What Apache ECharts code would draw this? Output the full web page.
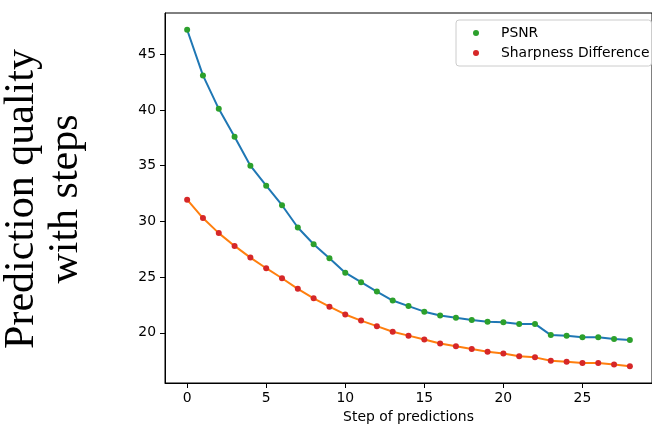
<!DOCTYPE html>
<html>
<head>
<meta charset="utf-8">
<script src="https://cdn.jsdelivr.net/npm/echarts@6/dist/echarts.min.js"></script>
<style>
  html, body { margin: 0; padding: 0; background: #ffffff; }
  #chart { width: 652px; height: 431px; }
</style>
</head>
<body>
<div id="chart"></div>
<script>
// step index along x
const steps = [0, 1, 2, 3, 4, 5, 6, 7, 8, 9, 10, 11, 12, 13, 14, 15, 16, 17, 18, 19, 20, 21, 22, 23, 24, 25, 26, 27, 28];
// values
const psnr = [47.2, 43.1, 40.1, 37.6, 35.0, 33.2, 31.45, 29.45, 27.95, 26.7, 25.4, 24.55, 23.7, 22.9, 22.4,
  21.9, 21.55, 21.35, 21.15, 21.0, 20.95, 20.8, 20.8, 19.8, 19.75, 19.6, 19.6, 19.45, 19.35];
const sharpness = [31.95, 30.3, 28.95, 27.8, 26.75, 25.8, 24.9, 23.95, 23.1, 22.35, 21.65, 21.1, 20.6, 20.1, 19.75,
  19.4, 19.05, 18.8, 18.55, 18.3, 18.15, 17.9, 17.8, 17.5, 17.4, 17.3, 17.3, 17.15, 17.0];
// tick labels
const xTicks = [0, 5, 10, 15, 20, 25];
const yTicks = [20, 25, 30, 35, 40, 45];

const pair = (ys) => steps.map((x, i) => [x, ys[i]]);
const font = 'DejaVu Sans';

const chart = echarts.init(document.getElementById('chart'));

const option = {
  animation: false,
  backgroundColor: '#ffffff',
  grid: {
    left: 165, top: 13, width: 496, height: 370,
    show: true, borderColor: '#000000', borderWidth: 1
  },
  xAxis: {
    type: 'value',
    min: -1.4, max: 29.4,
    name: 'Step of predictions',
    nameLocation: 'middle',
    nameGap: 27,
    nameTextStyle: { color: '#000000', fontSize: 13.9, fontFamily: font },
    axisLine: { show: true, onZero: false, lineStyle: { color: '#000000', width: 1 } },
    axisTick: { show: true, length: 5, customValues: xTicks, lineStyle: { color: '#000000' } },
    axisLabel: { customValues: xTicks, margin: 8, color: '#000000', fontSize: 13.9, fontFamily: font },
    splitLine: { show: false }
  },
  yAxis: {
    type: 'value',
    min: 15.5, max: 48.7,
    axisLine: { show: true, onZero: false, lineStyle: { color: '#000000', width: 1 } },
    axisTick: { show: true, length: 5, customValues: yTicks, lineStyle: { color: '#000000' } },
    axisLabel: { customValues: yTicks, margin: 9, color: '#000000', fontSize: 13.9, fontFamily: font },
    splitLine: { show: false }
  },
  legend: {
    orient: 'vertical',
    left: 456, top: 20,
    data: ['PSNR', 'Sharpness Difference'],
    icon: 'circle',
    itemWidth: 6, itemHeight: 6,
    itemGap: 6,
    padding: [6, 2, 6, 17],
    borderColor: '#cccccc', borderWidth: 1, borderRadius: 3,
    backgroundColor: '#ffffff',
    textStyle: { color: '#000000', fontSize: 13.9, fontFamily: font, padding: [0, 0, 0, 17] }
  },
  graphic: [{
    type: 'text',
    x: 44, y: 199,
    rotation: Math.PI / 2,
    style: {
      text: 'Prediction quality\nwith steps',
      font: '42px "Liberation Serif"',
      fill: '#000000',
      align: 'center',
      verticalAlign: 'middle',
      lineHeight: 44
    }
  }],
  series: [
    {
      name: 'psnr-line', type: 'line', data: pair(psnr),
      showSymbol: false, lineStyle: { color: '#1f77b4', width: 2 }, z: 2
    },
    {
      name: 'sharp-line', type: 'line', data: pair(sharpness),
      showSymbol: false, lineStyle: { color: '#ff7f0e', width: 2 }, z: 2
    },
    {
      name: 'PSNR', type: 'scatter', data: pair(psnr),
      symbolSize: 6, itemStyle: { color: '#2ca02c', opacity: 1 }, z: 3
    },
    {
      name: 'Sharpness Difference', type: 'scatter', data: pair(sharpness),
      symbolSize: 6, itemStyle: { color: '#d62728', opacity: 1 }, z: 3
    }
  ]
};

chart.setOption(option);
</script>
</body>
</html>
